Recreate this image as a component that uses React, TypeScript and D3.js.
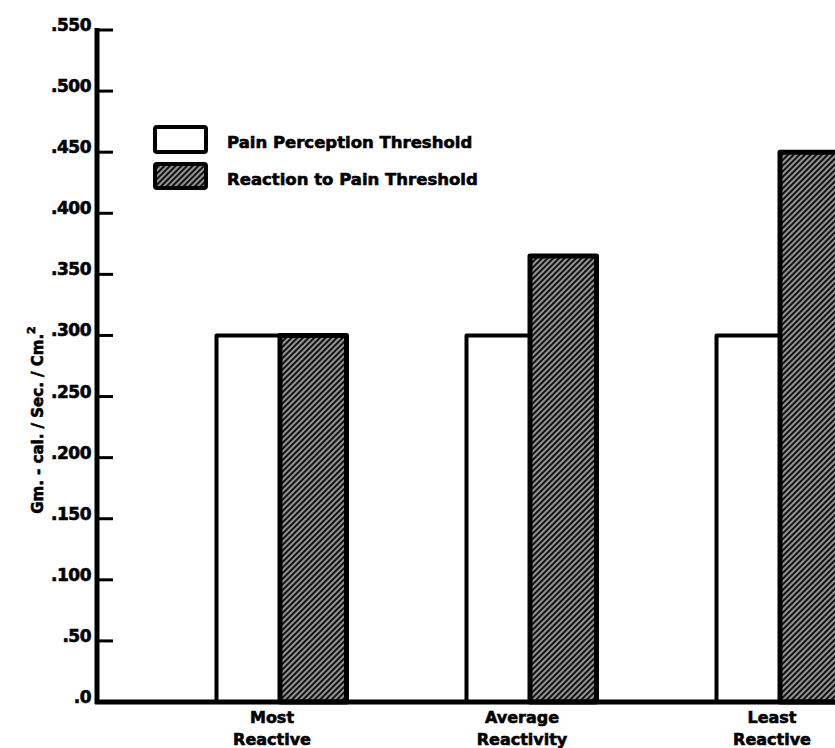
import React from 'react'
import * as d3 from 'd3'

const categories = ['Most Reactive', 'Average Reactivity', 'Least Reactive']
const categoryLines = [['Most', 'Reactive'], ['Average', 'Reactivity'], ['Least', 'Reactive']]
const seriesNames = ['Pain Perception Threshold', 'Reaction to Pain Threshold']
const painPerception = [0.300, 0.300, 0.300]
const painReaction = [0.300, 0.365, 0.450]
const tickValues = [0, 0.05, 0.1, 0.15, 0.2, 0.25, 0.3, 0.35, 0.4, 0.45, 0.5, 0.55]
const tickLabels = ['.0', '.50', '.100', '.150', '.200', '.250', '.300', '.350', '.400', '.450', '.500', '.550']

const width = 835
const height = 748
const axisX = 97
const font = '"DejaVu Sans", sans-serif'
// the printed lettering is very heavy, thicken it a bit
const heavy = { stroke: '#000', strokeWidth: 0.6 }

export default function App() {
  const y = d3.scaleLinear().domain([0, 0.55]).range([702, 30])

  // outer band per group, inner band per series
  const x0 = d3.scaleBand<string>()
    .domain(categories)
    .range([156, 906])
    .paddingInner(0.484)
    .paddingOuter(0.242)
  const x1 = d3.scaleBand<string>()
    .domain(seriesNames)
    .range([0, x0.bandwidth()])

  const values = [painPerception, painReaction]

  return (
    <svg width={width} height={height} style={{ position: 'absolute', left: 0, top: 0, background: '#fff' }}>
      <defs>
        <pattern id="hatch" width={4} height={4} patternUnits="userSpaceOnUse" patternTransform="rotate(-45)">
          <rect width={4} height={4} fill="#111" />
          <line x1={0} y1={2} x2={4} y2={2} stroke="#fff" strokeWidth={1.1} />
        </pattern>
      </defs>

      {/* bars */}
      {categories.map((c, i) => (
        <g key={c} transform={`translate(${x0(c)},0)`}>
          {seriesNames.map((s, j) => {
            const v = values[j][i]
            return (
              <rect key={s}
                    x={x1(s)! + (j === 1 ? -1 : 0)}
                    y={y(v)}
                    width={x1.bandwidth() + (j === 1 ? 2 : 0)}
                    height={y(0) - y(v)}
                    fill={j === 0 ? '#fff' : 'url(#hatch)'}
                    stroke="#000"
                    strokeWidth={j === 0 ? 4 : 5}
                    strokeLinejoin="round" />
            )
          })}
        </g>
      ))}

      {/* y axis */}
      <line x1={axisX} y1={y(0.55) - 2} x2={axisX} y2={y(0) + 2} stroke="#000" strokeWidth={5} />
      {tickValues.map((t, i) => (
        <g key={t}>
          <line x1={axisX} y1={y(t)} x2={113} y2={y(t)} stroke="#000" strokeWidth={3} />
          <text x={91} y={y(t) + 1} textAnchor="end" fontFamily={font} fontWeight="bold"
                fontSize={17} letterSpacing={-0.5} {...heavy}>{tickLabels[i]}</text>
        </g>
      ))}

      {/* x axis */}
      <line x1={axisX - 2} y1={y(0)} x2={width} y2={y(0)} stroke="#000" strokeWidth={5} />
      {categories.map((c, i) => {
        const cx = x0(c)! + x0.bandwidth() / 2 - 9
        return (
          <text key={c} textAnchor="middle" fontFamily={font} fontWeight="bold" fontSize={16} {...heavy}>
            <tspan x={cx} y={723}>{categoryLines[i][0]}</tspan>
            <tspan x={cx} y={745}>{categoryLines[i][1]}</tspan>
          </text>
        )
      })}

      {/* y title */}
      <text transform={`translate(43,420) rotate(-90)`} textAnchor="middle" fontFamily={font}
            fontWeight="bold" fontSize={15} {...heavy}>
        Gm. - cal. / Sec. / Cm.<tspan dy={-8} fontSize={11}>2</tspan>
      </text>

      {/* legend */}
      {seriesNames.map((s, j) => (
        <g key={s} transform={`translate(155,${127 + j * 37})`}>
          <rect x={0} y={0} width={51} height={j === 0 ? 25 : 24}
                fill={j === 0 ? '#fff' : 'url(#hatch)'} stroke="#000" strokeWidth={4} rx={2} />
          <text x={72} y={21} fontFamily={font} fontWeight="bold" fontSize={16.5} {...heavy}>{s}</text>
        </g>
      ))}
    </svg>
  )
}
